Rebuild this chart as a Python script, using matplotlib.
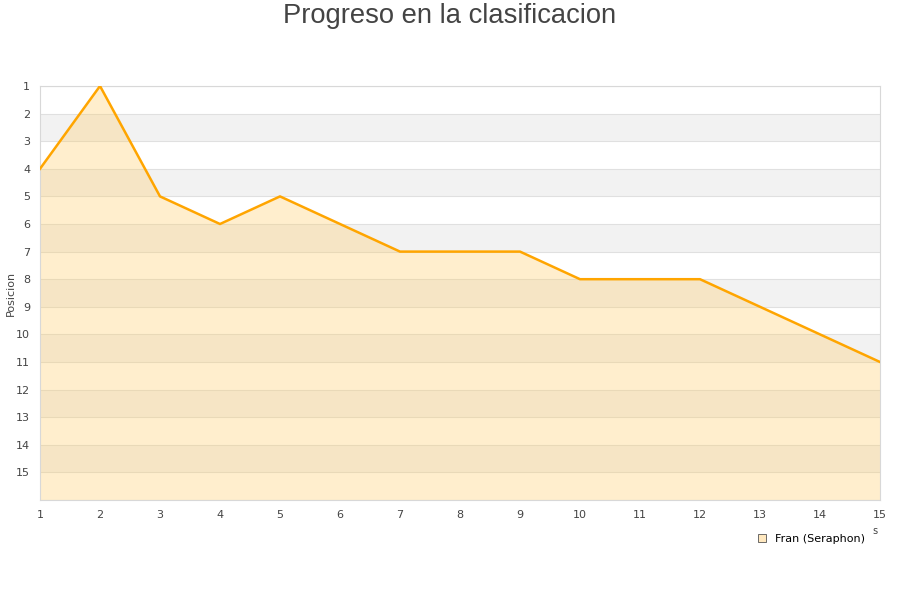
import matplotlib
matplotlib.use('Agg')
import matplotlib.pyplot as plt
from matplotlib.lines import Line2D

# datos de la clasificacion
jornadas = [1, 2, 3, 4, 5, 6, 7, 8, 9, 10, 11, 12, 13, 14, 15]
posiciones = [4, 1, 5, 6, 5, 6, 7, 7, 7, 8, 8, 8, 9, 10, 11]
jugador = "Fran (Seraphon)"
y_ticks = list(range(1, 16))

fig = plt.figure(figsize=(9, 6), dpi=100)
ax = fig.add_axes([40 / 900, 1 - 500 / 600, 840 / 900, 414 / 600])

# bandas alternas
for k in range(1, 16):
    if k % 2 == 0:
        ax.axhspan(k, k + 1, color='#f2f2f2', zorder=0, lw=0)
for k in range(1, 17):
    ax.axhline(k, color='#e0e0e0', lw=0.8, zorder=1)

ax.fill_between(jornadas, posiciones, 16, color='#ffcc66', alpha=0.32, lw=0, zorder=2)
ax.plot(jornadas, posiciones, color='#ffa500', lw=1.8, zorder=3)

ax.set_xlim(1, 15)
ax.set_ylim(16, 1)
ax.set_xticks(jornadas)
ax.set_yticks(y_ticks)
ax.tick_params(length=0, labelsize=8, colors='#444444', pad=7)
for s in ax.spines.values():
    s.set_color('#d8d8d8')
ax.set_ylabel("Posicion", fontsize=8, color='#444444')
ax.yaxis.set_label_coords(-24 / 840, 0.5)

fig.text(0.5, 1 - 16 / 600, "Progreso en la clasificacion", ha='center', va='center',
         fontsize=19.7, color='#444444', family='Liberation Sans')
fig.text(875 / 900, 1 - 531 / 600, "s", ha='center', va='center', fontsize=7, color='#444444')

h = Line2D([], [], marker='s', ls='none', markersize=6, markerfacecolor='#ffe8bf',
           markeredgecolor='#555555', markeredgewidth=0.6)
fig.legend([h], [jugador], loc='center', bbox_to_anchor=(808 / 900, 1 - 539 / 600),
           frameon=False, fontsize=8, handletextpad=0.2)

fig.savefig('out.png', dpi=100)
